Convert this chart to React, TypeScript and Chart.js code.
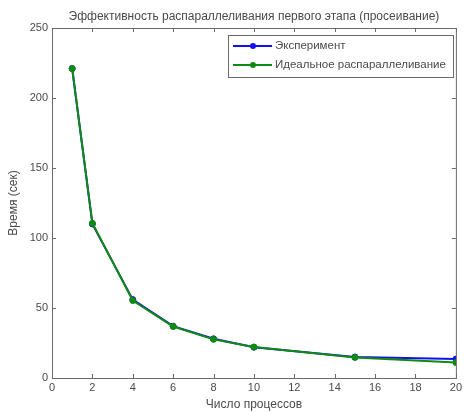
import React, { useEffect, useRef } from "react";
import { Chart, registerables } from "chart.js";

Chart.register(...registerables);

const processes = [1, 2, 4, 6, 8, 10, 15, 20];
const experimentTimes = [221, 110, 56, 37, 28, 22, 15, 13.5];
const idealTimes = [221, 110.5, 55.3, 36.8, 27.6, 22.1, 14.7, 11];
const seriesNames = ["Эксперимент", "Идеальное распараллеливание"];
const seriesColors = ["#1010f0", "#108a10"];
const titleText = "Эффективность распараллеливания первого этапа (просеивание)";
const xTitle = "Число процессов";
const yTitle = "Время (сек)";

const FONT = "'Liberation Sans', Arial, sans-serif";
const TEXT = "#4a4a4a";
const AXIS = "#6a6a6a";

export default function App() {
  const ref = useRef<HTMLCanvasElement | null>(null);
  useEffect(() => {
    document.body.style.margin = "0";
    const canvas = ref.current;
    if (!canvas) return;

    const framePlugin = {
      id: "frame",
      afterDatasetsDraw(chart: any) {
        const { ctx, chartArea: a, scales } = chart;
        ctx.save();
        ctx.strokeStyle = AXIS;
        ctx.lineWidth = 1;
        ctx.strokeRect(a.left + 0.5, a.top + 0.5, a.right - a.left, a.bottom - a.top);
        const L = 4;
        ctx.beginPath();
        scales.x.ticks.forEach((t: any) => {
          const x = Math.round(scales.x.getPixelForValue(t.value)) + 0.5;
          ctx.moveTo(x, a.bottom); ctx.lineTo(x, a.bottom - L);
          ctx.moveTo(x, a.top); ctx.lineTo(x, a.top + L);
        });
        scales.y.ticks.forEach((t: any) => {
          const y = Math.round(scales.y.getPixelForValue(t.value)) + 0.5;
          ctx.moveTo(a.left, y); ctx.lineTo(a.left + L, y);
          ctx.moveTo(a.right, y); ctx.lineTo(a.right - L, y);
        });
        ctx.stroke();

        // title
        ctx.fillStyle = TEXT;
        ctx.font = `12px ${FONT}`;
        ctx.textAlign = "center";
        ctx.textBaseline = "middle";
        ctx.fillText(titleText, (a.left + a.right) / 2, 17);

        // legend
        const bx = 228, by = 35, bw = 225, bh = 42;
        ctx.fillStyle = "#ffffff";
        ctx.fillRect(bx, by, bw, bh);
        ctx.strokeStyle = AXIS;
        ctx.lineWidth = 1;
        ctx.strokeRect(bx + 0.5, by + 0.5, bw, bh);
        seriesNames.forEach((name, i) => {
          const y = by + 11 + i * 19;
          ctx.strokeStyle = seriesColors[i];
          ctx.lineWidth = 2;
          ctx.beginPath();
          ctx.moveTo(233, y); ctx.lineTo(272, y);
          ctx.stroke();
          ctx.fillStyle = seriesColors[i];
          ctx.beginPath();
          ctx.arc(253, y, 3, 0, Math.PI * 2);
          ctx.fill();
          ctx.fillStyle = TEXT;
          ctx.font = `11.5px ${FONT}`;
          ctx.textAlign = "left";
          ctx.fillText(name, 275, y);
        });
        ctx.restore();
      },
    };

    const chart = new Chart(canvas, {
      type: "line",
      data: {
        datasets: [
          {
            label: seriesNames[0],
            data: processes.map((p, i) => ({ x: p, y: experimentTimes[i] })),
            borderColor: seriesColors[0],
            backgroundColor: seriesColors[0],
            borderWidth: 2,
            pointRadius: 3,
            pointBorderWidth: 1,
            order: 1,
          },
          {
            label: seriesNames[1],
            data: processes.map((p, i) => ({ x: p, y: idealTimes[i] })),
            borderColor: seriesColors[1],
            backgroundColor: seriesColors[1],
            borderWidth: 2,
            pointRadius: 3,
            pointBorderWidth: 1,
            order: 0,
          },
        ],
      },
      options: {
        animation: false,
        responsive: false,
        events: [],
        layout: { padding: { top: 28, right: 7, left: 0, bottom: 0 } },
        plugins: { legend: { display: false }, title: { display: false }, tooltip: { enabled: false } },
        scales: {
          x: {
            type: "linear",
            min: 0,
            max: 20,
            ticks: { stepSize: 2, color: TEXT, font: { family: FONT, size: 11 }, padding: 3, maxRotation: 0 },
            grid: { display: false, drawTicks: false },
            border: { display: false },
            title: { display: true, text: xTitle, color: TEXT, font: { family: FONT, size: 12 }, padding: { top: 1, bottom: 0 } },
            afterFit: (s: any) => { s.height = 34; },
          },
          y: {
            type: "linear",
            min: 0,
            max: 250,
            ticks: { stepSize: 50, color: TEXT, font: { family: FONT, size: 11 }, padding: 4 },
            grid: { display: false, drawTicks: false },
            border: { display: false },
            title: { display: true, text: yTitle, color: TEXT, font: { family: FONT, size: 12 }, padding: { top: 6, bottom: 8 } },
            afterFit: (s: any) => { s.width = 52; },
          },
        },
      },
      plugins: [framePlugin],
    });
    return () => chart.destroy();
  }, []);
  return <canvas ref={ref} width={465} height={412} style={{ display: "block" }} />;
}
